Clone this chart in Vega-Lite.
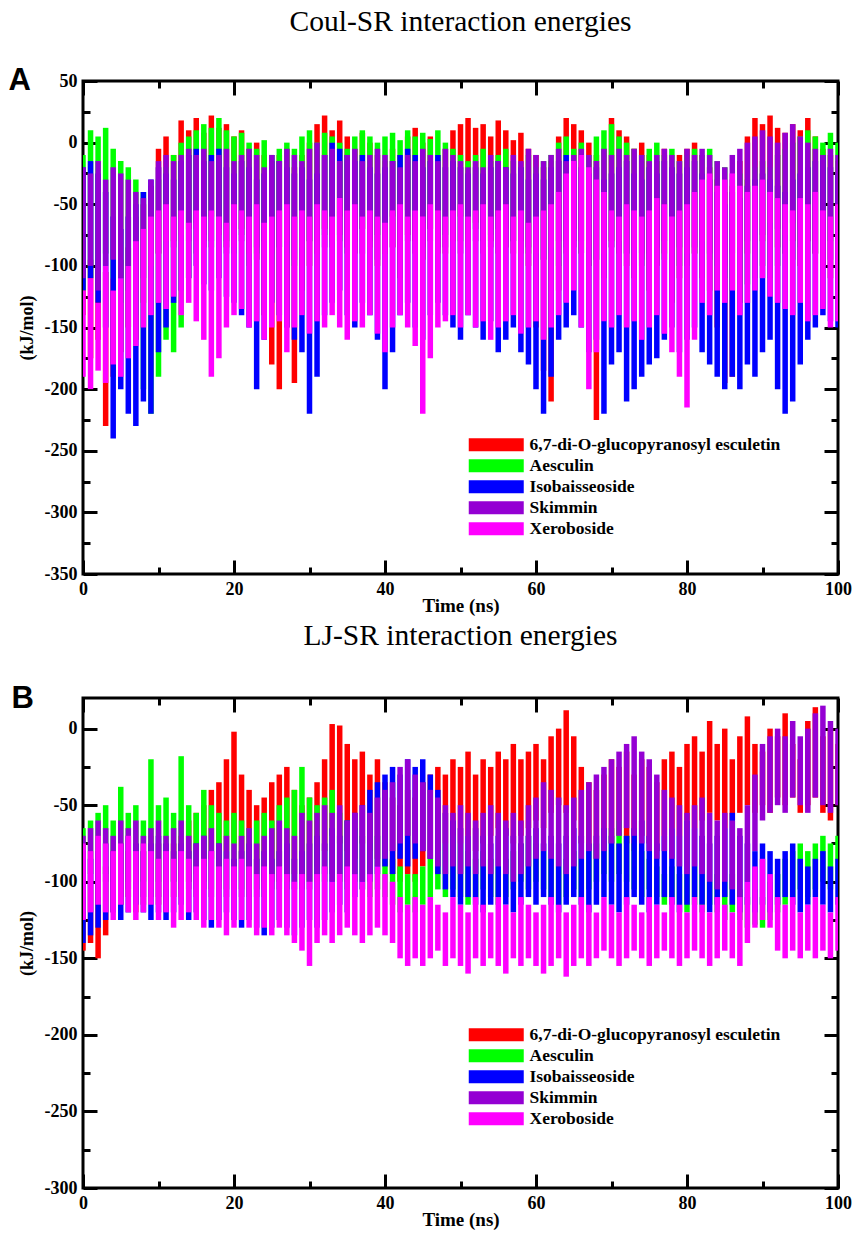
{
"$schema":"https://vega.github.io/schema/vega-lite/v6.json",
"background":"white",
"padding":{"left":6,"top":5,"right":10,"bottom":2},
"datasets":{
"coul":[
{"t":0,"s":"a","l":-140,"h":-80},{"t":1,"s":"a","l":-175,"h":-95},{"t":2,"s":"a","l":-160,"h":-100},{"t":3,"s":"a","l":-230,"h":-105},{"t":4,"s":"a","l":-190,"h":-110},{"t":5,"s":"a","l":-170,"h":-95},{"t":6,"s":"a","l":-150,"h":-85},{"t":7,"s":"a","l":-160,"h":-60},{"t":8,"s":"a","l":-130,"h":-50},{"t":9,"s":"a","l":-110,"h":-35},{"t":10,"s":"a","l":-90,"h":-5},{"t":11,"s":"a","l":-75,"h":5},{"t":12,"s":"a","l":-80,"h":-10},{"t":13,"s":"a","l":-60,"h":18},{"t":14,"s":"a","l":-70,"h":10},{"t":15,"s":"a","l":-65,"h":20},{"t":16,"s":"a","l":-75,"h":8},{"t":17,"s":"a","l":-60,"h":22},{"t":18,"s":"a","l":-70,"h":12},{"t":19,"s":"a","l":-85,"h":15},{"t":20,"s":"a","l":-80,"h":5},{"t":21,"s":"a","l":-70,"h":10},{"t":22,"s":"a","l":-90,"h":-5},{"t":23,"s":"a","l":-95,"h":0},{"t":24,"s":"a","l":-140,"h":-10},{"t":25,"s":"a","l":-180,"h":-15},{"t":26,"s":"a","l":-200,"h":-10},{"t":27,"s":"a","l":-150,"h":-5},{"t":28,"s":"a","l":-195,"h":-20},{"t":29,"s":"a","l":-120,"h":-10},{"t":30,"s":"a","l":-100,"h":0},{"t":31,"s":"a","l":-80,"h":15},{"t":32,"s":"a","l":-70,"h":22},{"t":33,"s":"a","l":-75,"h":10},{"t":34,"s":"a","l":-60,"h":18},{"t":35,"s":"a","l":-85,"h":5},{"t":36,"s":"a","l":-90,"h":-5},{"t":37,"s":"a","l":-70,"h":8},{"t":38,"s":"a","l":-80,"h":0},{"t":39,"s":"a","l":-100,"h":-10},{"t":40,"s":"a","l":-90,"h":-15},{"t":41,"s":"a","l":-85,"h":-5},{"t":42,"s":"a","l":-110,"h":-10},{"t":43,"s":"a","l":-75,"h":5},{"t":44,"s":"a","l":-80,"h":12},{"t":45,"s":"a","l":-95,"h":0},{"t":46,"s":"a","l":-70,"h":5},{"t":47,"s":"a","l":-85,"h":-10},{"t":48,"s":"a","l":-90,"h":-5},{"t":49,"s":"a","l":-80,"h":10},{"t":50,"s":"a","l":-60,"h":15},{"t":51,"s":"a","l":-55,"h":20},{"t":52,"s":"a","l":-65,"h":12},{"t":53,"s":"a","l":-70,"h":15},{"t":54,"s":"a","l":-80,"h":5},{"t":55,"s":"a","l":-60,"h":18},{"t":56,"s":"a","l":-70,"h":10},{"t":57,"s":"a","l":-90,"h":2},{"t":58,"s":"a","l":-80,"h":8},{"t":59,"s":"a","l":-100,"h":-5},{"t":60,"s":"a","l":-150,"h":-10},{"t":61,"s":"a","l":-185,"h":-20},{"t":62,"s":"a","l":-210,"h":-15},{"t":63,"s":"a","l":-120,"h":5},{"t":64,"s":"a","l":-80,"h":20},{"t":65,"s":"a","l":-70,"h":15},{"t":66,"s":"a","l":-90,"h":10},{"t":67,"s":"a","l":-100,"h":0},{"t":68,"s":"a","l":-225,"h":-10},{"t":69,"s":"a","l":-110,"h":-5},{"t":70,"s":"a","l":-80,"h":20},{"t":71,"s":"a","l":-90,"h":10},{"t":72,"s":"a","l":-100,"h":5},{"t":73,"s":"a","l":-110,"h":-5},{"t":74,"s":"a","l":-95,"h":0},{"t":75,"s":"a","l":-120,"h":-10},{"t":76,"s":"a","l":-100,"h":-15},{"t":77,"s":"a","l":-90,"h":-5},{"t":78,"s":"a","l":-130,"h":-20},{"t":79,"s":"a","l":-110,"h":-10},{"t":80,"s":"a","l":-100,"h":-5},{"t":81,"s":"a","l":-90,"h":0},{"t":82,"s":"a","l":-110,"h":-10},{"t":83,"s":"a","l":-120,"h":-20},{"t":84,"s":"a","l":-150,"h":-30},{"t":85,"s":"a","l":-195,"h":-40},{"t":86,"s":"a","l":-190,"h":-35},{"t":87,"s":"a","l":-130,"h":-15},{"t":88,"s":"a","l":-90,"h":5},{"t":89,"s":"a","l":-70,"h":20},{"t":90,"s":"a","l":-80,"h":15},{"t":91,"s":"a","l":-75,"h":22},{"t":92,"s":"a","l":-85,"h":12},{"t":93,"s":"a","l":-90,"h":8},{"t":94,"s":"a","l":-80,"h":15},{"t":95,"s":"a","l":-100,"h":10},{"t":96,"s":"a","l":-70,"h":20},{"t":97,"s":"a","l":-90,"h":5},{"t":98,"s":"a","l":-100,"h":-5},{"t":99,"s":"a","l":-110,"h":-10},{"t":100,"s":"a","l":-120,"h":-15},
{"t":0,"s":"b","l":-120,"h":-10},{"t":1,"s":"b","l":-110,"h":10},{"t":2,"s":"b","l":-100,"h":5},{"t":3,"s":"b","l":-90,"h":12},{"t":4,"s":"b","l":-110,"h":-5},{"t":5,"s":"b","l":-130,"h":-15},{"t":6,"s":"b","l":-120,"h":-20},{"t":7,"s":"b","l":-140,"h":-30},{"t":8,"s":"b","l":-200,"h":-40},{"t":9,"s":"b","l":-220,"h":-60},{"t":10,"s":"b","l":-190,"h":-30},{"t":11,"s":"b","l":-160,"h":-20},{"t":12,"s":"b","l":-170,"h":-10},{"t":13,"s":"b","l":-150,"h":0},{"t":14,"s":"b","l":-110,"h":5},{"t":15,"s":"b","l":-90,"h":10},{"t":16,"s":"b","l":-80,"h":15},{"t":17,"s":"b","l":-85,"h":12},{"t":18,"s":"b","l":-70,"h":20},{"t":19,"s":"b","l":-80,"h":10},{"t":20,"s":"b","l":-90,"h":5},{"t":21,"s":"b","l":-75,"h":8},{"t":22,"s":"b","l":-100,"h":0},{"t":23,"s":"b","l":-90,"h":-5},{"t":24,"s":"b","l":-80,"h":2},{"t":25,"s":"b","l":-95,"h":-10},{"t":26,"s":"b","l":-85,"h":-5},{"t":27,"s":"b","l":-90,"h":0},{"t":28,"s":"b","l":-100,"h":-5},{"t":29,"s":"b","l":-85,"h":5},{"t":30,"s":"b","l":-80,"h":10},{"t":31,"s":"b","l":-90,"h":0},{"t":32,"s":"b","l":-75,"h":8},{"t":33,"s":"b","l":-85,"h":5},{"t":34,"s":"b","l":-80,"h":0},{"t":35,"s":"b","l":-90,"h":-5},{"t":36,"s":"b","l":-75,"h":5},{"t":37,"s":"b","l":-70,"h":10},{"t":38,"s":"b","l":-80,"h":5},{"t":39,"s":"b","l":-75,"h":0},{"t":40,"s":"b","l":-65,"h":5},{"t":41,"s":"b","l":-60,"h":8},{"t":42,"s":"b","l":-70,"h":2},{"t":43,"s":"b","l":-55,"h":10},{"t":44,"s":"b","l":-60,"h":5},{"t":45,"s":"b","l":-65,"h":8},{"t":46,"s":"b","l":-70,"h":3},{"t":47,"s":"b","l":-60,"h":10},{"t":48,"s":"b","l":-75,"h":0},{"t":49,"s":"b","l":-70,"h":-5},{"t":50,"s":"b","l":-80,"h":-10},{"t":51,"s":"b","l":-75,"h":-15},{"t":52,"s":"b","l":-70,"h":-10},{"t":53,"s":"b","l":-80,"h":-5},{"t":54,"s":"b","l":-75,"h":-15},{"t":55,"s":"b","l":-70,"h":-10},{"t":56,"s":"b","l":-85,"h":-5},{"t":57,"s":"b","l":-80,"h":-15},{"t":58,"s":"b","l":-75,"h":-20},{"t":59,"s":"b","l":-90,"h":-10},{"t":60,"s":"b","l":-100,"h":-20},{"t":61,"s":"b","l":-95,"h":-15},{"t":62,"s":"b","l":-90,"h":-10},{"t":63,"s":"b","l":-100,"h":0},{"t":64,"s":"b","l":-85,"h":5},{"t":65,"s":"b","l":-80,"h":-5},{"t":66,"s":"b","l":-90,"h":0},{"t":67,"s":"b","l":-100,"h":-10},{"t":68,"s":"b","l":-95,"h":5},{"t":69,"s":"b","l":-90,"h":10},{"t":70,"s":"b","l":-85,"h":15},{"t":71,"s":"b","l":-80,"h":5},{"t":72,"s":"b","l":-90,"h":0},{"t":73,"s":"b","l":-95,"h":-5},{"t":74,"s":"b","l":-100,"h":-10},{"t":75,"s":"b","l":-90,"h":-5},{"t":76,"s":"b","l":-85,"h":0},{"t":77,"s":"b","l":-95,"h":-10},{"t":78,"s":"b","l":-90,"h":-5},{"t":79,"s":"b","l":-100,"h":-15},{"t":80,"s":"b","l":-95,"h":-10},{"t":81,"s":"b","l":-90,"h":-5},{"t":82,"s":"b","l":-100,"h":-10},{"t":83,"s":"b","l":-95,"h":-5},{"t":84,"s":"b","l":-100,"h":-15},{"t":85,"s":"b","l":-110,"h":-20},{"t":86,"s":"b","l":-120,"h":-30},{"t":87,"s":"b","l":-130,"h":-25},{"t":88,"s":"b","l":-115,"h":-30},{"t":89,"s":"b","l":-110,"h":-20},{"t":90,"s":"b","l":-100,"h":-15},{"t":91,"s":"b","l":-110,"h":-20},{"t":92,"s":"b","l":-100,"h":-10},{"t":93,"s":"b","l":-90,"h":-5},{"t":94,"s":"b","l":-95,"h":0},{"t":95,"s":"b","l":-85,"h":5},{"t":96,"s":"b","l":-80,"h":10},{"t":97,"s":"b","l":-90,"h":5},{"t":98,"s":"b","l":-100,"h":0},{"t":99,"s":"b","l":-80,"h":8},{"t":100,"s":"b","l":-90,"h":0},
{"t":0,"s":"c","l":-120,"h":-20},{"t":1,"s":"c","l":-110,"h":-15},{"t":2,"s":"c","l":-130,"h":-25},{"t":3,"s":"c","l":-150,"h":-40},{"t":4,"s":"c","l":-240,"h":-60},{"t":5,"s":"c","l":-200,"h":-70},{"t":6,"s":"c","l":-220,"h":-60},{"t":7,"s":"c","l":-230,"h":-50},{"t":8,"s":"c","l":-210,"h":-40},{"t":9,"s":"c","l":-220,"h":-30},{"t":10,"s":"c","l":-170,"h":-20},{"t":11,"s":"c","l":-150,"h":-25},{"t":12,"s":"c","l":-130,"h":-30},{"t":13,"s":"c","l":-120,"h":-15},{"t":14,"s":"c","l":-110,"h":-10},{"t":15,"s":"c","l":-100,"h":-5},{"t":16,"s":"c","l":-115,"h":-15},{"t":17,"s":"c","l":-120,"h":-10},{"t":18,"s":"c","l":-110,"h":-5},{"t":19,"s":"c","l":-125,"h":-20},{"t":20,"s":"c","l":-130,"h":-25},{"t":21,"s":"c","l":-140,"h":-15},{"t":22,"s":"c","l":-150,"h":-20},{"t":23,"s":"c","l":-200,"h":-30},{"t":24,"s":"c","l":-160,"h":-25},{"t":25,"s":"c","l":-130,"h":-10},{"t":26,"s":"c","l":-140,"h":-15},{"t":27,"s":"c","l":-150,"h":-20},{"t":28,"s":"c","l":-160,"h":-25},{"t":29,"s":"c","l":-170,"h":-20},{"t":30,"s":"c","l":-220,"h":-30},{"t":31,"s":"c","l":-190,"h":-25},{"t":32,"s":"c","l":-140,"h":-10},{"t":33,"s":"c","l":-130,"h":0},{"t":34,"s":"c","l":-120,"h":-5},{"t":35,"s":"c","l":-140,"h":-10},{"t":36,"s":"c","l":-150,"h":-15},{"t":37,"s":"c","l":-130,"h":-10},{"t":38,"s":"c","l":-140,"h":-20},{"t":39,"s":"c","l":-160,"h":-25},{"t":40,"s":"c","l":-200,"h":-20},{"t":41,"s":"c","l":-170,"h":-15},{"t":42,"s":"c","l":-140,"h":-10},{"t":43,"s":"c","l":-130,"h":-5},{"t":44,"s":"c","l":-150,"h":-10},{"t":45,"s":"c","l":-160,"h":-20},{"t":46,"s":"c","l":-140,"h":-15},{"t":47,"s":"c","l":-130,"h":-10},{"t":48,"s":"c","l":-140,"h":-20},{"t":49,"s":"c","l":-150,"h":-15},{"t":50,"s":"c","l":-160,"h":-20},{"t":51,"s":"c","l":-140,"h":-25},{"t":52,"s":"c","l":-150,"h":-20},{"t":53,"s":"c","l":-160,"h":-25},{"t":54,"s":"c","l":-145,"h":-20},{"t":55,"s":"c","l":-170,"h":-15},{"t":56,"s":"c","l":-160,"h":-20},{"t":57,"s":"c","l":-150,"h":-25},{"t":58,"s":"c","l":-170,"h":-20},{"t":59,"s":"c","l":-180,"h":-30},{"t":60,"s":"c","l":-200,"h":-25},{"t":61,"s":"c","l":-220,"h":-30},{"t":62,"s":"c","l":-190,"h":-20},{"t":63,"s":"c","l":-160,"h":-15},{"t":64,"s":"c","l":-150,"h":-10},{"t":65,"s":"c","l":-140,"h":-15},{"t":66,"s":"c","l":-150,"h":-20},{"t":67,"s":"c","l":-170,"h":-25},{"t":68,"s":"c","l":-160,"h":-20},{"t":69,"s":"c","l":-220,"h":-30},{"t":70,"s":"c","l":-180,"h":-25},{"t":71,"s":"c","l":-170,"h":-20},{"t":72,"s":"c","l":-210,"h":-15},{"t":73,"s":"c","l":-200,"h":-25},{"t":74,"s":"c","l":-190,"h":-30},{"t":75,"s":"c","l":-180,"h":-20},{"t":76,"s":"c","l":-175,"h":-25},{"t":77,"s":"c","l":-160,"h":-15},{"t":78,"s":"c","l":-150,"h":-20},{"t":79,"s":"c","l":-170,"h":-25},{"t":80,"s":"c","l":-160,"h":-20},{"t":81,"s":"c","l":-150,"h":-15},{"t":82,"s":"c","l":-170,"h":-25},{"t":83,"s":"c","l":-180,"h":-30},{"t":84,"s":"c","l":-190,"h":-40},{"t":85,"s":"c","l":-200,"h":-50},{"t":86,"s":"c","l":-190,"h":-40},{"t":87,"s":"c","l":-200,"h":-45},{"t":88,"s":"c","l":-180,"h":-35},{"t":89,"s":"c","l":-190,"h":-30},{"t":90,"s":"c","l":-170,"h":-25},{"t":91,"s":"c","l":-160,"h":-30},{"t":92,"s":"c","l":-200,"h":-35},{"t":93,"s":"c","l":-220,"h":-40},{"t":94,"s":"c","l":-210,"h":-30},{"t":95,"s":"c","l":-180,"h":-25},{"t":96,"s":"c","l":-160,"h":-20},{"t":97,"s":"c","l":-150,"h":-15},{"t":98,"s":"c","l":-140,"h":-10},{"t":99,"s":"c","l":-145,"h":-20},{"t":100,"s":"c","l":-150,"h":-25},
{"t":0,"s":"d","l":-110,"h":-20},{"t":1,"s":"d","l":-100,"h":-25},{"t":2,"s":"d","l":-120,"h":-15},{"t":3,"s":"d","l":-100,"h":-30},{"t":4,"s":"d","l":-95,"h":-20},{"t":5,"s":"d","l":-110,"h":-25},{"t":6,"s":"d","l":-100,"h":-30},{"t":7,"s":"d","l":-120,"h":-40},{"t":8,"s":"d","l":-110,"h":-45},{"t":9,"s":"d","l":-100,"h":-30},{"t":10,"s":"d","l":-90,"h":-15},{"t":11,"s":"d","l":-80,"h":-10},{"t":12,"s":"d","l":-85,"h":-15},{"t":13,"s":"d","l":-75,"h":-10},{"t":14,"s":"d","l":-80,"h":-5},{"t":15,"s":"d","l":-70,"h":-10},{"t":16,"s":"d","l":-85,"h":-5},{"t":17,"s":"d","l":-80,"h":-15},{"t":18,"s":"d","l":-75,"h":-10},{"t":19,"s":"d","l":-90,"h":-5},{"t":20,"s":"d","l":-85,"h":-15},{"t":21,"s":"d","l":-80,"h":-10},{"t":22,"s":"d","l":-90,"h":-5},{"t":23,"s":"d","l":-85,"h":-10},{"t":24,"s":"d","l":-80,"h":-20},{"t":25,"s":"d","l":-90,"h":-10},{"t":26,"s":"d","l":-85,"h":-15},{"t":27,"s":"d","l":-80,"h":-5},{"t":28,"s":"d","l":-95,"h":-10},{"t":29,"s":"d","l":-85,"h":-15},{"t":30,"s":"d","l":-80,"h":-5},{"t":31,"s":"d","l":-90,"h":0},{"t":32,"s":"d","l":-85,"h":-10},{"t":33,"s":"d","l":-80,"h":-5},{"t":34,"s":"d","l":-75,"h":-15},{"t":35,"s":"d","l":-85,"h":-10},{"t":36,"s":"d","l":-80,"h":-5},{"t":37,"s":"d","l":-90,"h":-15},{"t":38,"s":"d","l":-85,"h":-10},{"t":39,"s":"d","l":-95,"h":-5},{"t":40,"s":"d","l":-90,"h":-10},{"t":41,"s":"d","l":-85,"h":-15},{"t":42,"s":"d","l":-95,"h":-20},{"t":43,"s":"d","l":-80,"h":-10},{"t":44,"s":"d","l":-90,"h":-15},{"t":45,"s":"d","l":-85,"h":-5},{"t":46,"s":"d","l":-80,"h":-10},{"t":47,"s":"d","l":-90,"h":-15},{"t":48,"s":"d","l":-85,"h":-5},{"t":49,"s":"d","l":-80,"h":-10},{"t":50,"s":"d","l":-90,"h":-15},{"t":51,"s":"d","l":-85,"h":-20},{"t":52,"s":"d","l":-80,"h":-15},{"t":53,"s":"d","l":-90,"h":-20},{"t":54,"s":"d","l":-85,"h":-10},{"t":55,"s":"d","l":-90,"h":-15},{"t":56,"s":"d","l":-85,"h":-20},{"t":57,"s":"d","l":-80,"h":-10},{"t":58,"s":"d","l":-90,"h":-15},{"t":59,"s":"d","l":-85,"h":-5},{"t":60,"s":"d","l":-90,"h":-10},{"t":61,"s":"d","l":-95,"h":-15},{"t":62,"s":"d","l":-85,"h":-10},{"t":63,"s":"d","l":-80,"h":-5},{"t":64,"s":"d","l":-90,"h":-15},{"t":65,"s":"d","l":-85,"h":-10},{"t":66,"s":"d","l":-80,"h":-5},{"t":67,"s":"d","l":-85,"h":-10},{"t":68,"s":"d","l":-95,"h":-15},{"t":69,"s":"d","l":-90,"h":-5},{"t":70,"s":"d","l":-85,"h":-10},{"t":71,"s":"d","l":-80,"h":-5},{"t":72,"s":"d","l":-90,"h":-10},{"t":73,"s":"d","l":-85,"h":-5},{"t":74,"s":"d","l":-90,"h":-10},{"t":75,"s":"d","l":-95,"h":-15},{"t":76,"s":"d","l":-85,"h":-10},{"t":77,"s":"d","l":-80,"h":-5},{"t":78,"s":"d","l":-90,"h":-10},{"t":79,"s":"d","l":-85,"h":-15},{"t":80,"s":"d","l":-90,"h":-5},{"t":81,"s":"d","l":-85,"h":-10},{"t":82,"s":"d","l":-80,"h":-5},{"t":83,"s":"d","l":-90,"h":-10},{"t":84,"s":"d","l":-95,"h":-15},{"t":85,"s":"d","l":-100,"h":-20},{"t":86,"s":"d","l":-90,"h":-10},{"t":87,"s":"d","l":-85,"h":-5},{"t":88,"s":"d","l":-80,"h":0},{"t":89,"s":"d","l":-70,"h":5},{"t":90,"s":"d","l":-75,"h":10},{"t":91,"s":"d","l":-65,"h":5},{"t":92,"s":"d","l":-70,"h":0},{"t":93,"s":"d","l":-75,"h":8},{"t":94,"s":"d","l":-65,"h":15},{"t":95,"s":"d","l":-70,"h":5},{"t":96,"s":"d","l":-80,"h":0},{"t":97,"s":"d","l":-90,"h":-5},{"t":98,"s":"d","l":-100,"h":-10},{"t":99,"s":"d","l":-95,"h":-5},{"t":100,"s":"d","l":-90,"h":-10},
{"t":0,"s":"e","l":-190,"h":-120},{"t":1,"s":"e","l":-200,"h":-110},{"t":2,"s":"e","l":-185,"h":-130},{"t":3,"s":"e","l":-195,"h":-100},{"t":4,"s":"e","l":-180,"h":-120},{"t":5,"s":"e","l":-190,"h":-110},{"t":6,"s":"e","l":-175,"h":-100},{"t":7,"s":"e","l":-165,"h":-80},{"t":8,"s":"e","l":-150,"h":-70},{"t":9,"s":"e","l":-140,"h":-60},{"t":10,"s":"e","l":-130,"h":-55},{"t":11,"s":"e","l":-135,"h":-50},{"t":12,"s":"e","l":-125,"h":-60},{"t":13,"s":"e","l":-140,"h":-55},{"t":14,"s":"e","l":-130,"h":-65},{"t":15,"s":"e","l":-145,"h":-55},{"t":16,"s":"e","l":-160,"h":-60},{"t":17,"s":"e","l":-190,"h":-55},{"t":18,"s":"e","l":-175,"h":-60},{"t":19,"s":"e","l":-150,"h":-65},{"t":20,"s":"e","l":-140,"h":-50},{"t":21,"s":"e","l":-135,"h":-55},{"t":22,"s":"e","l":-150,"h":-60},{"t":23,"s":"e","l":-145,"h":-50},{"t":24,"s":"e","l":-160,"h":-65},{"t":25,"s":"e","l":-150,"h":-60},{"t":26,"s":"e","l":-145,"h":-55},{"t":27,"s":"e","l":-170,"h":-50},{"t":28,"s":"e","l":-150,"h":-60},{"t":29,"s":"e","l":-140,"h":-55},{"t":30,"s":"e","l":-155,"h":-60},{"t":31,"s":"e","l":-145,"h":-50},{"t":32,"s":"e","l":-150,"h":-55},{"t":33,"s":"e","l":-140,"h":-60},{"t":34,"s":"e","l":-150,"h":-45},{"t":35,"s":"e","l":-160,"h":-55},{"t":36,"s":"e","l":-145,"h":-50},{"t":37,"s":"e","l":-150,"h":-60},{"t":38,"s":"e","l":-140,"h":-55},{"t":39,"s":"e","l":-155,"h":-60},{"t":40,"s":"e","l":-170,"h":-65},{"t":41,"s":"e","l":-150,"h":-55},{"t":42,"s":"e","l":-140,"h":-50},{"t":43,"s":"e","l":-150,"h":-60},{"t":44,"s":"e","l":-165,"h":-55},{"t":45,"s":"e","l":-220,"h":-60},{"t":46,"s":"e","l":-175,"h":-50},{"t":47,"s":"e","l":-150,"h":-55},{"t":48,"s":"e","l":-145,"h":-60},{"t":49,"s":"e","l":-140,"h":-55},{"t":50,"s":"e","l":-150,"h":-50},{"t":51,"s":"e","l":-140,"h":-60},{"t":52,"s":"e","l":-150,"h":-55},{"t":53,"s":"e","l":-145,"h":-50},{"t":54,"s":"e","l":-160,"h":-60},{"t":55,"s":"e","l":-150,"h":-55},{"t":56,"s":"e","l":-145,"h":-50},{"t":57,"s":"e","l":-140,"h":-60},{"t":58,"s":"e","l":-155,"h":-55},{"t":59,"s":"e","l":-150,"h":-65},{"t":60,"s":"e","l":-145,"h":-60},{"t":61,"s":"e","l":-160,"h":-55},{"t":62,"s":"e","l":-150,"h":-50},{"t":63,"s":"e","l":-140,"h":-40},{"t":64,"s":"e","l":-130,"h":-25},{"t":65,"s":"e","l":-120,"h":-15},{"t":66,"s":"e","l":-150,"h":-10},{"t":67,"s":"e","l":-200,"h":-20},{"t":68,"s":"e","l":-170,"h":-30},{"t":69,"s":"e","l":-145,"h":-40},{"t":70,"s":"e","l":-150,"h":-55},{"t":71,"s":"e","l":-140,"h":-60},{"t":72,"s":"e","l":-150,"h":-50},{"t":73,"s":"e","l":-145,"h":-55},{"t":74,"s":"e","l":-160,"h":-60},{"t":75,"s":"e","l":-150,"h":-55},{"t":76,"s":"e","l":-140,"h":-45},{"t":77,"s":"e","l":-155,"h":-50},{"t":78,"s":"e","l":-170,"h":-60},{"t":79,"s":"e","l":-190,"h":-55},{"t":80,"s":"e","l":-215,"h":-50},{"t":81,"s":"e","l":-160,"h":-40},{"t":82,"s":"e","l":-130,"h":-30},{"t":83,"s":"e","l":-140,"h":-25},{"t":84,"s":"e","l":-120,"h":-35},{"t":85,"s":"e","l":-130,"h":-30},{"t":86,"s":"e","l":-120,"h":-25},{"t":87,"s":"e","l":-140,"h":-35},{"t":88,"s":"e","l":-130,"h":-40},{"t":89,"s":"e","l":-120,"h":-35},{"t":90,"s":"e","l":-110,"h":-30},{"t":91,"s":"e","l":-125,"h":-40},{"t":92,"s":"e","l":-130,"h":-45},{"t":93,"s":"e","l":-135,"h":-50},{"t":94,"s":"e","l":-140,"h":-55},{"t":95,"s":"e","l":-130,"h":-45},{"t":96,"s":"e","l":-145,"h":-50},{"t":97,"s":"e","l":-140,"h":-40},{"t":98,"s":"e","l":-135,"h":-55},{"t":99,"s":"e","l":-150,"h":-60},{"t":100,"s":"e","l":-145,"h":-50}
],
"lj":[
{"t":0,"s":"a","l":-145,"h":-100},{"t":1,"s":"a","l":-140,"h":-105},{"t":2,"s":"a","l":-150,"h":-95},{"t":3,"s":"a","l":-135,"h":-90},{"t":4,"s":"a","l":-120,"h":-80},{"t":5,"s":"a","l":-115,"h":-75},{"t":6,"s":"a","l":-110,"h":-80},{"t":7,"s":"a","l":-120,"h":-75},{"t":8,"s":"a","l":-115,"h":-80},{"t":9,"s":"a","l":-110,"h":-70},{"t":10,"s":"a","l":-115,"h":-75},{"t":11,"s":"a","l":-120,"h":-80},{"t":12,"s":"a","l":-110,"h":-75},{"t":13,"s":"a","l":-105,"h":-70},{"t":14,"s":"a","l":-100,"h":-60},{"t":15,"s":"a","l":-95,"h":-55},{"t":16,"s":"a","l":-90,"h":-50},{"t":17,"s":"a","l":-85,"h":-40},{"t":18,"s":"a","l":-90,"h":-35},{"t":19,"s":"a","l":-80,"h":-20},{"t":20,"s":"a","l":-75,"h":-2},{"t":21,"s":"a","l":-85,"h":-30},{"t":22,"s":"a","l":-90,"h":-40},{"t":23,"s":"a","l":-95,"h":-50},{"t":24,"s":"a","l":-100,"h":-45},{"t":25,"s":"a","l":-95,"h":-35},{"t":26,"s":"a","l":-90,"h":-30},{"t":27,"s":"a","l":-100,"h":-25},{"t":28,"s":"a","l":-95,"h":-40},{"t":29,"s":"a","l":-105,"h":-50},{"t":30,"s":"a","l":-100,"h":-45},{"t":31,"s":"a","l":-90,"h":-35},{"t":32,"s":"a","l":-80,"h":-20},{"t":33,"s":"a","l":-70,"h":3},{"t":34,"s":"a","l":-75,"h":2},{"t":35,"s":"a","l":-80,"h":-10},{"t":36,"s":"a","l":-85,"h":-20},{"t":37,"s":"a","l":-75,"h":-15},{"t":38,"s":"a","l":-80,"h":-30},{"t":39,"s":"a","l":-85,"h":-20},{"t":40,"s":"a","l":-90,"h":-35},{"t":41,"s":"a","l":-95,"h":-45},{"t":42,"s":"a","l":-100,"h":-50},{"t":43,"s":"a","l":-95,"h":-40},{"t":44,"s":"a","l":-100,"h":-45},{"t":45,"s":"a","l":-90,"h":-35},{"t":46,"s":"a","l":-85,"h":-30},{"t":47,"s":"a","l":-80,"h":-25},{"t":48,"s":"a","l":-75,"h":-30},{"t":49,"s":"a","l":-70,"h":-20},{"t":50,"s":"a","l":-75,"h":-25},{"t":51,"s":"a","l":-70,"h":-15},{"t":52,"s":"a","l":-80,"h":-30},{"t":53,"s":"a","l":-75,"h":-20},{"t":54,"s":"a","l":-70,"h":-25},{"t":55,"s":"a","l":-65,"h":-15},{"t":56,"s":"a","l":-70,"h":-20},{"t":57,"s":"a","l":-75,"h":-10},{"t":58,"s":"a","l":-70,"h":-20},{"t":59,"s":"a","l":-65,"h":-15},{"t":60,"s":"a","l":-60,"h":-10},{"t":61,"s":"a","l":-65,"h":-20},{"t":62,"s":"a","l":-55,"h":-5},{"t":63,"s":"a","l":-50,"h":0},{"t":64,"s":"a","l":-55,"h":12},{"t":65,"s":"a","l":-60,"h":-5},{"t":66,"s":"a","l":-75,"h":-25},{"t":67,"s":"a","l":-80,"h":-35},{"t":68,"s":"a","l":-85,"h":-40},{"t":69,"s":"a","l":-80,"h":-30},{"t":70,"s":"a","l":-75,"h":-20},{"t":71,"s":"a","l":-70,"h":-25},{"t":72,"s":"a","l":-75,"h":-15},{"t":73,"s":"a","l":-80,"h":-30},{"t":74,"s":"a","l":-70,"h":-20},{"t":75,"s":"a","l":-75,"h":-25},{"t":76,"s":"a","l":-80,"h":-35},{"t":77,"s":"a","l":-70,"h":-20},{"t":78,"s":"a","l":-65,"h":-15},{"t":79,"s":"a","l":-70,"h":-25},{"t":80,"s":"a","l":-60,"h":-10},{"t":81,"s":"a","l":-65,"h":-5},{"t":82,"s":"a","l":-60,"h":-15},{"t":83,"s":"a","l":-55,"h":5},{"t":84,"s":"a","l":-60,"h":-10},{"t":85,"s":"a","l":-65,"h":0},{"t":86,"s":"a","l":-60,"h":-20},{"t":87,"s":"a","l":-55,"h":-5},{"t":88,"s":"a","l":-50,"h":8},{"t":89,"s":"a","l":-55,"h":-10},{"t":90,"s":"a","l":-50,"h":-15},{"t":91,"s":"a","l":-55,"h":0},{"t":92,"s":"a","l":-45,"h":-5},{"t":93,"s":"a","l":-50,"h":10},{"t":94,"s":"a","l":-45,"h":-10},{"t":95,"s":"a","l":-55,"h":-20},{"t":96,"s":"a","l":-50,"h":5},{"t":97,"s":"a","l":-45,"h":14},{"t":98,"s":"a","l":-55,"h":-5},{"t":99,"s":"a","l":-60,"h":0},{"t":100,"s":"a","l":-50,"h":-10},
{"t":0,"s":"b","l":-100,"h":-65},{"t":1,"s":"b","l":-95,"h":-60},{"t":2,"s":"b","l":-100,"h":-55},{"t":3,"s":"b","l":-95,"h":-50},{"t":4,"s":"b","l":-100,"h":-60},{"t":5,"s":"b","l":-95,"h":-38},{"t":6,"s":"b","l":-100,"h":-55},{"t":7,"s":"b","l":-95,"h":-50},{"t":8,"s":"b","l":-100,"h":-60},{"t":9,"s":"b","l":-95,"h":-20},{"t":10,"s":"b","l":-100,"h":-50},{"t":11,"s":"b","l":-95,"h":-45},{"t":12,"s":"b","l":-100,"h":-55},{"t":13,"s":"b","l":-95,"h":-18},{"t":14,"s":"b","l":-100,"h":-50},{"t":15,"s":"b","l":-105,"h":-55},{"t":16,"s":"b","l":-100,"h":-40},{"t":17,"s":"b","l":-105,"h":-50},{"t":18,"s":"b","l":-100,"h":-55},{"t":19,"s":"b","l":-105,"h":-60},{"t":20,"s":"b","l":-100,"h":-55},{"t":21,"s":"b","l":-105,"h":-60},{"t":22,"s":"b","l":-110,"h":-65},{"t":23,"s":"b","l":-105,"h":-60},{"t":24,"s":"b","l":-110,"h":-55},{"t":25,"s":"b","l":-105,"h":-60},{"t":26,"s":"b","l":-100,"h":-50},{"t":27,"s":"b","l":-105,"h":-45},{"t":28,"s":"b","l":-100,"h":-40},{"t":29,"s":"b","l":-95,"h":-25},{"t":30,"s":"b","l":-100,"h":-45},{"t":31,"s":"b","l":-95,"h":-50},{"t":32,"s":"b","l":-100,"h":-45},{"t":33,"s":"b","l":-95,"h":-40},{"t":34,"s":"b","l":-100,"h":-55},{"t":35,"s":"b","l":-105,"h":-60},{"t":36,"s":"b","l":-100,"h":-65},{"t":37,"s":"b","l":-105,"h":-70},{"t":38,"s":"b","l":-110,"h":-75},{"t":39,"s":"b","l":-105,"h":-70},{"t":40,"s":"b","l":-110,"h":-80},{"t":41,"s":"b","l":-115,"h":-85},{"t":42,"s":"b","l":-120,"h":-90},{"t":43,"s":"b","l":-115,"h":-95},{"t":44,"s":"b","l":-120,"h":-95},{"t":45,"s":"b","l":-115,"h":-90},{"t":46,"s":"b","l":-110,"h":-85},{"t":47,"s":"b","l":-105,"h":-80},{"t":48,"s":"b","l":-110,"h":-75},{"t":49,"s":"b","l":-105,"h":-70},{"t":50,"s":"b","l":-110,"h":-75},{"t":51,"s":"b","l":-115,"h":-80},{"t":52,"s":"b","l":-110,"h":-85},{"t":53,"s":"b","l":-105,"h":-80},{"t":54,"s":"b","l":-110,"h":-85},{"t":55,"s":"b","l":-115,"h":-90},{"t":56,"s":"b","l":-110,"h":-85},{"t":57,"s":"b","l":-105,"h":-80},{"t":58,"s":"b","l":-100,"h":-75},{"t":59,"s":"b","l":-105,"h":-70},{"t":60,"s":"b","l":-100,"h":-75},{"t":61,"s":"b","l":-105,"h":-80},{"t":62,"s":"b","l":-110,"h":-85},{"t":63,"s":"b","l":-115,"h":-90},{"t":64,"s":"b","l":-110,"h":-85},{"t":65,"s":"b","l":-105,"h":-80},{"t":66,"s":"b","l":-110,"h":-85},{"t":67,"s":"b","l":-105,"h":-80},{"t":68,"s":"b","l":-100,"h":-75},{"t":69,"s":"b","l":-95,"h":-70},{"t":70,"s":"b","l":-100,"h":-65},{"t":71,"s":"b","l":-95,"h":-60},{"t":72,"s":"b","l":-100,"h":-70},{"t":73,"s":"b","l":-105,"h":-75},{"t":74,"s":"b","l":-110,"h":-80},{"t":75,"s":"b","l":-105,"h":-85},{"t":76,"s":"b","l":-110,"h":-90},{"t":77,"s":"b","l":-115,"h":-95},{"t":78,"s":"b","l":-110,"h":-90},{"t":79,"s":"b","l":-115,"h":-95},{"t":80,"s":"b","l":-120,"h":-95},{"t":81,"s":"b","l":-115,"h":-90},{"t":82,"s":"b","l":-120,"h":-95},{"t":83,"s":"b","l":-115,"h":-100},{"t":84,"s":"b","l":-120,"h":-95},{"t":85,"s":"b","l":-125,"h":-100},{"t":86,"s":"b","l":-120,"h":-95},{"t":87,"s":"b","l":-125,"h":-105},{"t":88,"s":"b","l":-130,"h":-110},{"t":89,"s":"b","l":-128,"h":-105},{"t":90,"s":"b","l":-130,"h":-110},{"t":91,"s":"b","l":-125,"h":-100},{"t":92,"s":"b","l":-120,"h":-95},{"t":93,"s":"b","l":-115,"h":-85},{"t":94,"s":"b","l":-110,"h":-80},{"t":95,"s":"b","l":-105,"h":-75},{"t":96,"s":"b","l":-110,"h":-80},{"t":97,"s":"b","l":-105,"h":-75},{"t":98,"s":"b","l":-100,"h":-70},{"t":99,"s":"b","l":-105,"h":-75},{"t":100,"s":"b","l":-100,"h":-70},
{"t":0,"s":"c","l":-140,"h":-80},{"t":1,"s":"c","l":-135,"h":-85},{"t":2,"s":"c","l":-130,"h":-80},{"t":3,"s":"c","l":-125,"h":-75},{"t":4,"s":"c","l":-120,"h":-80},{"t":5,"s":"c","l":-125,"h":-75},{"t":6,"s":"c","l":-120,"h":-70},{"t":7,"s":"c","l":-115,"h":-75},{"t":8,"s":"c","l":-120,"h":-80},{"t":9,"s":"c","l":-125,"h":-75},{"t":10,"s":"c","l":-120,"h":-70},{"t":11,"s":"c","l":-125,"h":-75},{"t":12,"s":"c","l":-120,"h":-80},{"t":13,"s":"c","l":-115,"h":-75},{"t":14,"s":"c","l":-125,"h":-80},{"t":15,"s":"c","l":-120,"h":-75},{"t":16,"s":"c","l":-125,"h":-70},{"t":17,"s":"c","l":-130,"h":-80},{"t":18,"s":"c","l":-125,"h":-75},{"t":19,"s":"c","l":-120,"h":-80},{"t":20,"s":"c","l":-125,"h":-85},{"t":21,"s":"c","l":-130,"h":-80},{"t":22,"s":"c","l":-125,"h":-75},{"t":23,"s":"c","l":-130,"h":-85},{"t":24,"s":"c","l":-135,"h":-80},{"t":25,"s":"c","l":-130,"h":-85},{"t":26,"s":"c","l":-125,"h":-80},{"t":27,"s":"c","l":-130,"h":-75},{"t":28,"s":"c","l":-135,"h":-85},{"t":29,"s":"c","l":-130,"h":-80},{"t":30,"s":"c","l":-125,"h":-75},{"t":31,"s":"c","l":-130,"h":-70},{"t":32,"s":"c","l":-125,"h":-75},{"t":33,"s":"c","l":-120,"h":-65},{"t":34,"s":"c","l":-115,"h":-70},{"t":35,"s":"c","l":-120,"h":-60},{"t":36,"s":"c","l":-110,"h":-55},{"t":37,"s":"c","l":-105,"h":-50},{"t":38,"s":"c","l":-100,"h":-40},{"t":39,"s":"c","l":-95,"h":-35},{"t":40,"s":"c","l":-90,"h":-30},{"t":41,"s":"c","l":-95,"h":-25},{"t":42,"s":"c","l":-85,"h":-30},{"t":43,"s":"c","l":-90,"h":-20},{"t":44,"s":"c","l":-85,"h":-25},{"t":45,"s":"c","l":-80,"h":-20},{"t":46,"s":"c","l":-85,"h":-30},{"t":47,"s":"c","l":-95,"h":-40},{"t":48,"s":"c","l":-105,"h":-55},{"t":49,"s":"c","l":-110,"h":-60},{"t":50,"s":"c","l":-115,"h":-65},{"t":51,"s":"c","l":-110,"h":-70},{"t":52,"s":"c","l":-115,"h":-65},{"t":53,"s":"c","l":-120,"h":-70},{"t":54,"s":"c","l":-115,"h":-75},{"t":55,"s":"c","l":-110,"h":-70},{"t":56,"s":"c","l":-115,"h":-65},{"t":57,"s":"c","l":-120,"h":-70},{"t":58,"s":"c","l":-115,"h":-75},{"t":59,"s":"c","l":-110,"h":-70},{"t":60,"s":"c","l":-115,"h":-65},{"t":61,"s":"c","l":-110,"h":-75},{"t":62,"s":"c","l":-115,"h":-70},{"t":63,"s":"c","l":-120,"h":-75},{"t":64,"s":"c","l":-115,"h":-70},{"t":65,"s":"c","l":-110,"h":-65},{"t":66,"s":"c","l":-115,"h":-70},{"t":67,"s":"c","l":-120,"h":-75},{"t":68,"s":"c","l":-115,"h":-70},{"t":69,"s":"c","l":-110,"h":-65},{"t":70,"s":"c","l":-115,"h":-70},{"t":71,"s":"c","l":-120,"h":-75},{"t":72,"s":"c","l":-115,"h":-70},{"t":73,"s":"c","l":-110,"h":-65},{"t":74,"s":"c","l":-115,"h":-60},{"t":75,"s":"c","l":-120,"h":-70},{"t":76,"s":"c","l":-115,"h":-75},{"t":77,"s":"c","l":-110,"h":-70},{"t":78,"s":"c","l":-115,"h":-65},{"t":79,"s":"c","l":-120,"h":-70},{"t":80,"s":"c","l":-115,"h":-60},{"t":81,"s":"c","l":-110,"h":-65},{"t":82,"s":"c","l":-115,"h":-70},{"t":83,"s":"c","l":-120,"h":-75},{"t":84,"s":"c","l":-115,"h":-70},{"t":85,"s":"c","l":-110,"h":-65},{"t":86,"s":"c","l":-115,"h":-55},{"t":87,"s":"c","l":-120,"h":-70},{"t":88,"s":"c","l":-115,"h":-75},{"t":89,"s":"c","l":-120,"h":-80},{"t":90,"s":"c","l":-115,"h":-75},{"t":91,"s":"c","l":-120,"h":-80},{"t":92,"s":"c","l":-115,"h":-85},{"t":93,"s":"c","l":-110,"h":-80},{"t":94,"s":"c","l":-115,"h":-75},{"t":95,"s":"c","l":-120,"h":-85},{"t":96,"s":"c","l":-115,"h":-90},{"t":97,"s":"c","l":-110,"h":-85},{"t":98,"s":"c","l":-115,"h":-80},{"t":99,"s":"c","l":-120,"h":-90},{"t":100,"s":"c","l":-115,"h":-85},
{"t":0,"s":"d","l":-110,"h":-70},{"t":1,"s":"d","l":-105,"h":-65},{"t":2,"s":"d","l":-110,"h":-60},{"t":3,"s":"d","l":-100,"h":-65},{"t":4,"s":"d","l":-105,"h":-70},{"t":5,"s":"d","l":-110,"h":-60},{"t":6,"s":"d","l":-105,"h":-65},{"t":7,"s":"d","l":-100,"h":-60},{"t":8,"s":"d","l":-110,"h":-70},{"t":9,"s":"d","l":-105,"h":-65},{"t":10,"s":"d","l":-110,"h":-60},{"t":11,"s":"d","l":-105,"h":-70},{"t":12,"s":"d","l":-100,"h":-65},{"t":13,"s":"d","l":-110,"h":-60},{"t":14,"s":"d","l":-105,"h":-70},{"t":15,"s":"d","l":-110,"h":-75},{"t":16,"s":"d","l":-105,"h":-70},{"t":17,"s":"d","l":-110,"h":-65},{"t":18,"s":"d","l":-105,"h":-75},{"t":19,"s":"d","l":-110,"h":-70},{"t":20,"s":"d","l":-105,"h":-75},{"t":21,"s":"d","l":-110,"h":-70},{"t":22,"s":"d","l":-105,"h":-65},{"t":23,"s":"d","l":-110,"h":-75},{"t":24,"s":"d","l":-105,"h":-70},{"t":25,"s":"d","l":-100,"h":-65},{"t":26,"s":"d","l":-105,"h":-60},{"t":27,"s":"d","l":-100,"h":-65},{"t":28,"s":"d","l":-105,"h":-70},{"t":29,"s":"d","l":-100,"h":-55},{"t":30,"s":"d","l":-105,"h":-60},{"t":31,"s":"d","l":-100,"h":-55},{"t":32,"s":"d","l":-95,"h":-50},{"t":33,"s":"d","l":-100,"h":-55},{"t":34,"s":"d","l":-95,"h":-50},{"t":35,"s":"d","l":-100,"h":-60},{"t":36,"s":"d","l":-95,"h":-55},{"t":37,"s":"d","l":-100,"h":-50},{"t":38,"s":"d","l":-95,"h":-55},{"t":39,"s":"d","l":-90,"h":-45},{"t":40,"s":"d","l":-85,"h":-40},{"t":41,"s":"d","l":-80,"h":-35},{"t":42,"s":"d","l":-75,"h":-25},{"t":43,"s":"d","l":-70,"h":-20},{"t":44,"s":"d","l":-75,"h":-30},{"t":45,"s":"d","l":-80,"h":-35},{"t":46,"s":"d","l":-85,"h":-40},{"t":47,"s":"d","l":-90,"h":-45},{"t":48,"s":"d","l":-95,"h":-50},{"t":49,"s":"d","l":-90,"h":-55},{"t":50,"s":"d","l":-95,"h":-50},{"t":51,"s":"d","l":-90,"h":-55},{"t":52,"s":"d","l":-95,"h":-60},{"t":53,"s":"d","l":-90,"h":-55},{"t":54,"s":"d","l":-95,"h":-50},{"t":55,"s":"d","l":-90,"h":-55},{"t":56,"s":"d","l":-95,"h":-60},{"t":57,"s":"d","l":-100,"h":-55},{"t":58,"s":"d","l":-95,"h":-60},{"t":59,"s":"d","l":-90,"h":-50},{"t":60,"s":"d","l":-85,"h":-45},{"t":61,"s":"d","l":-80,"h":-35},{"t":62,"s":"d","l":-85,"h":-40},{"t":63,"s":"d","l":-90,"h":-45},{"t":64,"s":"d","l":-95,"h":-50},{"t":65,"s":"d","l":-90,"h":-45},{"t":66,"s":"d","l":-85,"h":-40},{"t":67,"s":"d","l":-80,"h":-35},{"t":68,"s":"d","l":-85,"h":-30},{"t":69,"s":"d","l":-80,"h":-25},{"t":70,"s":"d","l":-75,"h":-20},{"t":71,"s":"d","l":-70,"h":-15},{"t":72,"s":"d","l":-65,"h":-10},{"t":73,"s":"d","l":-70,"h":-5},{"t":74,"s":"d","l":-75,"h":-15},{"t":75,"s":"d","l":-80,"h":-20},{"t":76,"s":"d","l":-85,"h":-30},{"t":77,"s":"d","l":-80,"h":-40},{"t":78,"s":"d","l":-85,"h":-45},{"t":79,"s":"d","l":-90,"h":-50},{"t":80,"s":"d","l":-95,"h":-55},{"t":81,"s":"d","l":-90,"h":-50},{"t":82,"s":"d","l":-95,"h":-45},{"t":83,"s":"d","l":-100,"h":-55},{"t":84,"s":"d","l":-105,"h":-60},{"t":85,"s":"d","l":-100,"h":-55},{"t":86,"s":"d","l":-105,"h":-60},{"t":87,"s":"d","l":-110,"h":-65},{"t":88,"s":"d","l":-100,"h":-50},{"t":89,"s":"d","l":-80,"h":-30},{"t":90,"s":"d","l":-60,"h":-10},{"t":91,"s":"d","l":-55,"h":-5},{"t":92,"s":"d","l":-50,"h":0},{"t":93,"s":"d","l":-55,"h":-5},{"t":94,"s":"d","l":-45,"h":5},{"t":95,"s":"d","l":-50,"h":-5},{"t":96,"s":"d","l":-55,"h":0},{"t":97,"s":"d","l":-45,"h":10},{"t":98,"s":"d","l":-50,"h":15},{"t":99,"s":"d","l":-55,"h":5},{"t":100,"s":"d","l":-50,"h":0},
{"t":0,"s":"e","l":-125,"h":-75},{"t":1,"s":"e","l":-120,"h":-80},{"t":2,"s":"e","l":-115,"h":-70},{"t":3,"s":"e","l":-120,"h":-75},{"t":4,"s":"e","l":-125,"h":-80},{"t":5,"s":"e","l":-115,"h":-75},{"t":6,"s":"e","l":-120,"h":-70},{"t":7,"s":"e","l":-125,"h":-80},{"t":8,"s":"e","l":-120,"h":-75},{"t":9,"s":"e","l":-115,"h":-80},{"t":10,"s":"e","l":-125,"h":-85},{"t":11,"s":"e","l":-120,"h":-80},{"t":12,"s":"e","l":-130,"h":-85},{"t":13,"s":"e","l":-125,"h":-80},{"t":14,"s":"e","l":-120,"h":-85},{"t":15,"s":"e","l":-125,"h":-90},{"t":16,"s":"e","l":-130,"h":-85},{"t":17,"s":"e","l":-125,"h":-80},{"t":18,"s":"e","l":-130,"h":-90},{"t":19,"s":"e","l":-135,"h":-85},{"t":20,"s":"e","l":-130,"h":-90},{"t":21,"s":"e","l":-125,"h":-85},{"t":22,"s":"e","l":-130,"h":-90},{"t":23,"s":"e","l":-135,"h":-95},{"t":24,"s":"e","l":-130,"h":-90},{"t":25,"s":"e","l":-135,"h":-95},{"t":26,"s":"e","l":-130,"h":-90},{"t":27,"s":"e","l":-135,"h":-95},{"t":28,"s":"e","l":-140,"h":-100},{"t":29,"s":"e","l":-145,"h":-95},{"t":30,"s":"e","l":-155,"h":-100},{"t":31,"s":"e","l":-140,"h":-95},{"t":32,"s":"e","l":-135,"h":-90},{"t":33,"s":"e","l":-140,"h":-100},{"t":34,"s":"e","l":-135,"h":-95},{"t":35,"s":"e","l":-130,"h":-90},{"t":36,"s":"e","l":-135,"h":-95},{"t":37,"s":"e","l":-140,"h":-100},{"t":38,"s":"e","l":-135,"h":-95},{"t":39,"s":"e","l":-130,"h":-90},{"t":40,"s":"e","l":-135,"h":-95},{"t":41,"s":"e","l":-140,"h":-100},{"t":42,"s":"e","l":-150,"h":-110},{"t":43,"s":"e","l":-155,"h":-115},{"t":44,"s":"e","l":-150,"h":-110},{"t":45,"s":"e","l":-155,"h":-115},{"t":46,"s":"e","l":-150,"h":-110},{"t":47,"s":"e","l":-145,"h":-115},{"t":48,"s":"e","l":-155,"h":-120},{"t":49,"s":"e","l":-150,"h":-110},{"t":50,"s":"e","l":-155,"h":-115},{"t":51,"s":"e","l":-160,"h":-120},{"t":52,"s":"e","l":-150,"h":-110},{"t":53,"s":"e","l":-155,"h":-115},{"t":54,"s":"e","l":-150,"h":-120},{"t":55,"s":"e","l":-155,"h":-110},{"t":56,"s":"e","l":-160,"h":-115},{"t":57,"s":"e","l":-150,"h":-120},{"t":58,"s":"e","l":-155,"h":-110},{"t":59,"s":"e","l":-150,"h":-115},{"t":60,"s":"e","l":-155,"h":-120},{"t":61,"s":"e","l":-160,"h":-115},{"t":62,"s":"e","l":-155,"h":-110},{"t":63,"s":"e","l":-150,"h":-115},{"t":64,"s":"e","l":-162,"h":-120},{"t":65,"s":"e","l":-155,"h":-115},{"t":66,"s":"e","l":-150,"h":-110},{"t":67,"s":"e","l":-155,"h":-115},{"t":68,"s":"e","l":-150,"h":-120},{"t":69,"s":"e","l":-145,"h":-110},{"t":70,"s":"e","l":-150,"h":-115},{"t":71,"s":"e","l":-155,"h":-120},{"t":72,"s":"e","l":-150,"h":-110},{"t":73,"s":"e","l":-145,"h":-115},{"t":74,"s":"e","l":-150,"h":-120},{"t":75,"s":"e","l":-155,"h":-110},{"t":76,"s":"e","l":-150,"h":-115},{"t":77,"s":"e","l":-145,"h":-120},{"t":78,"s":"e","l":-150,"h":-110},{"t":79,"s":"e","l":-155,"h":-115},{"t":80,"s":"e","l":-150,"h":-120},{"t":81,"s":"e","l":-145,"h":-110},{"t":82,"s":"e","l":-150,"h":-115},{"t":83,"s":"e","l":-155,"h":-120},{"t":84,"s":"e","l":-150,"h":-110},{"t":85,"s":"e","l":-145,"h":-115},{"t":86,"s":"e","l":-150,"h":-120},{"t":87,"s":"e","l":-155,"h":-110},{"t":88,"s":"e","l":-140,"h":-100},{"t":89,"s":"e","l":-130,"h":-90},{"t":90,"s":"e","l":-125,"h":-85},{"t":91,"s":"e","l":-130,"h":-95},{"t":92,"s":"e","l":-145,"h":-110},{"t":93,"s":"e","l":-150,"h":-115},{"t":94,"s":"e","l":-145,"h":-110},{"t":95,"s":"e","l":-150,"h":-120},{"t":96,"s":"e","l":-145,"h":-115},{"t":97,"s":"e","l":-150,"h":-110},{"t":98,"s":"e","l":-145,"h":-115},{"t":99,"s":"e","l":-150,"h":-120},{"t":100,"s":"e","l":-145,"h":-110}
]
},
"vconcat":[
{
"data":{"name":"coul"},
"width":755,"height":493,
"title":{"text":"Coul-SR interaction energies","font":"Liberation Serif","fontSize":29.5,"fontWeight":"normal","color":"black","anchor":"middle","frame":"group","offset":27},
"resolve":{"axis":{"x":"independent","y":"independent"}},
"layer":[
{
"mark":{"type":"bar","size":5.5,"clip":true},
"encoding":{
"x":{"field":"t","type":"quantitative","scale":{"domain":[0,100],"nice":false,"zero":false,"padding":0},
"axis":{"orient":"bottom","title":"Time (ns)","values":[0,20,40,60,80,100],"ticks":false,"tickSize":0,"domain":false,"labelPadding":6,"titlePadding":-2}},
"y":{"field":"l","type":"quantitative","scale":{"domain":[-350,50],"nice":false,"zero":false},
"axis":{"orient":"left","title":"(kJ/mol)","values":[-350,-300,-250,-200,-150,-100,-50,0,50],"ticks":false,"tickSize":0,"domain":false,"labelPadding":6,"titlePadding":8,"labelExpr":"replace(datum.label,'\u2212','-')"}},
"y2":{"field":"h"},
"color":{"field":"s","type":"nominal","scale":{"domain":["a","b","c","d","e"],"range":["#ff0000","#00ff00","#0000ff","#9400d3","#ff00ff"]},
"legend":{"orient":"none","legendX":378,"legendY":355,"title":null,"labelExpr":"{'a':'6,7-di-O-glucopyranosyl esculetin','b':'Aesculin','c':'Isobaisseoside','d':'Skimmin','e':'Xeroboside'}[datum.label]"}}
}
},
{
"mark":{"type":"point","opacity":0},
"encoding":{
"x":{"field":"t","type":"quantitative","axis":{"orient":"bottom","title":null,"labels":false,"domain":false,"values":[0,20,40,60,80,100],"tickSize":14,"offset":-14}},
"y":{"field":"l","type":"quantitative","axis":{"orient":"left","title":null,"labels":false,"domain":false,"values":[-350,-300,-250,-200,-150,-100,-50,0,50],"tickSize":14,"offset":-14}}
}
},
{
"mark":{"type":"point","opacity":0},
"encoding":{
"x":{"field":"t","type":"quantitative","axis":{"orient":"bottom","title":null,"labels":false,"domain":false,"values":[10,30,50,70,90],"tickSize":7,"offset":-7}},
"y":{"field":"l","type":"quantitative","axis":{"orient":"left","title":null,"labels":false,"domain":false,"values":[-325,-275,-225,-175,-125,-75,-25,25],"tickSize":7,"offset":-7}}
}
},
{
"mark":{"type":"point","opacity":0},
"encoding":{
"x":{"field":"t","type":"quantitative","axis":{"orient":"top","title":"A","labels":false,"domain":false,"values":[0,20,40,60,80,100],"tickSize":14,"offset":-14,"titleFont":"Liberation Sans","titleFontSize":31,"titleFontWeight":"bold","titleAngle":0,"titleAlign":"left","titleBaseline":"alphabetic","titleX":-75,"titleY":-6}},
"y":{"field":"l","type":"quantitative","axis":{"orient":"right","title":null,"labels":false,"domain":false,"values":[-350,-300,-250,-200,-150,-100,-50,0,50],"tickSize":14,"offset":-14}}
}
},
{
"mark":{"type":"point","opacity":0},
"encoding":{
"x":{"field":"t","type":"quantitative","axis":{"orient":"top","title":null,"labels":false,"domain":false,"values":[10,30,50,70,90],"tickSize":7,"offset":-7}},
"y":{"field":"l","type":"quantitative","axis":{"orient":"right","title":null,"labels":false,"domain":false,"values":[-325,-275,-225,-175,-125,-75,-25,25],"tickSize":7,"offset":-7}}
}
}
]
},
{
"data":{"name":"lj"},
"width":755,"height":490,
"title":{"text":"LJ-SR interaction energies","font":"Liberation Serif","fontSize":29.5,"fontWeight":"normal","color":"black","anchor":"middle","frame":"group","offset":31},
"resolve":{"axis":{"x":"independent","y":"independent"}},
"layer":[
{
"mark":{"type":"bar","size":5.5,"clip":true},
"encoding":{
"x":{"field":"t","type":"quantitative","scale":{"domain":[0,100],"nice":false,"zero":false,"padding":0},
"axis":{"orient":"bottom","title":"Time (ns)","values":[0,20,40,60,80,100],"ticks":false,"tickSize":0,"domain":false,"labelPadding":6,"titlePadding":-2}},
"y":{"field":"l","type":"quantitative","scale":{"domain":[-300,20],"nice":false,"zero":false},
"axis":{"orient":"left","title":"(kJ/mol)","values":[-300,-250,-200,-150,-100,-50,0],"ticks":false,"tickSize":0,"domain":false,"labelPadding":6,"titlePadding":8,"labelExpr":"replace(datum.label,'\u2212','-')"}},
"y2":{"field":"h"},
"color":{"field":"s","type":"nominal","scale":{"domain":["a","b","c","d","e"],"range":["#ff0000","#00ff00","#0000ff","#9400d3","#ff00ff"]},
"legend":{"orient":"none","legendX":378,"legendY":328,"title":null,"labelExpr":"{'a':'6,7-di-O-glucopyranosyl esculetin','b':'Aesculin','c':'Isobaisseoside','d':'Skimmin','e':'Xeroboside'}[datum.label]"}}
}
},
{
"mark":{"type":"point","opacity":0},
"encoding":{
"x":{"field":"t","type":"quantitative","axis":{"orient":"bottom","title":null,"labels":false,"domain":false,"values":[0,20,40,60,80,100],"tickSize":14,"offset":-14}},
"y":{"field":"l","type":"quantitative","axis":{"orient":"left","title":null,"labels":false,"domain":false,"values":[-300,-250,-200,-150,-100,-50,0],"tickSize":14,"offset":-14}}
}
},
{
"mark":{"type":"point","opacity":0},
"encoding":{
"x":{"field":"t","type":"quantitative","axis":{"orient":"bottom","title":null,"labels":false,"domain":false,"values":[10,30,50,70,90],"tickSize":7,"offset":-7}},
"y":{"field":"l","type":"quantitative","axis":{"orient":"left","title":null,"labels":false,"domain":false,"values":[-275,-225,-175,-125,-75,-25],"tickSize":7,"offset":-7}}
}
},
{
"mark":{"type":"point","opacity":0},
"encoding":{
"x":{"field":"t","type":"quantitative","axis":{"orient":"top","title":"B","labels":false,"domain":false,"values":[0,20,40,60,80,100],"tickSize":14,"offset":-14,"titleFont":"Liberation Sans","titleFontSize":31,"titleFontWeight":"bold","titleAngle":0,"titleAlign":"left","titleBaseline":"alphabetic","titleX":-72,"titleY":-5}},
"y":{"field":"l","type":"quantitative","axis":{"orient":"right","title":null,"labels":false,"domain":false,"values":[-300,-250,-200,-150,-100,-50,0],"tickSize":14,"offset":-14}}
}
},
{
"mark":{"type":"point","opacity":0},
"encoding":{
"x":{"field":"t","type":"quantitative","axis":{"orient":"top","title":null,"labels":false,"domain":false,"values":[10,30,50,70,90],"tickSize":7,"offset":-7}},
"y":{"field":"l","type":"quantitative","axis":{"orient":"right","title":null,"labels":false,"domain":false,"values":[-275,-225,-175,-125,-75,-25],"tickSize":7,"offset":-7}}
}
}
]
}
],
"spacing":2,
"resolve":{"scale":{"color":"independent"},"legend":{"color":"independent"}},
"config":{
"view":{"stroke":"black","strokeWidth":3},
"axis":{"grid":false,"zindex":1,"tickColor":"black","tickWidth":3,"labelFont":"Liberation Serif","labelFontWeight":"bold","labelFontSize":18,"labelColor":"black","labelFlush":false,"labelOverlap":false,"titleFont":"Liberation Serif","titleFontWeight":"bold","titleFontSize":19,"titleColor":"black"},
"axisLeft":{"titleFontSize":18},
"legend":{"labelFont":"Liberation Serif","labelFontWeight":"bold","labelFontSize":17.5,"labelColor":"black","labelLimit":0,"symbolType":"M-1,-6.5H54V6.5H-1Z","symbolSize":4,"symbolStrokeWidth":0,"symbolOpacity":1,"labelOffset":51,"rowPadding":2,"padding":0},
"title":{"color":"black"}
}
}
